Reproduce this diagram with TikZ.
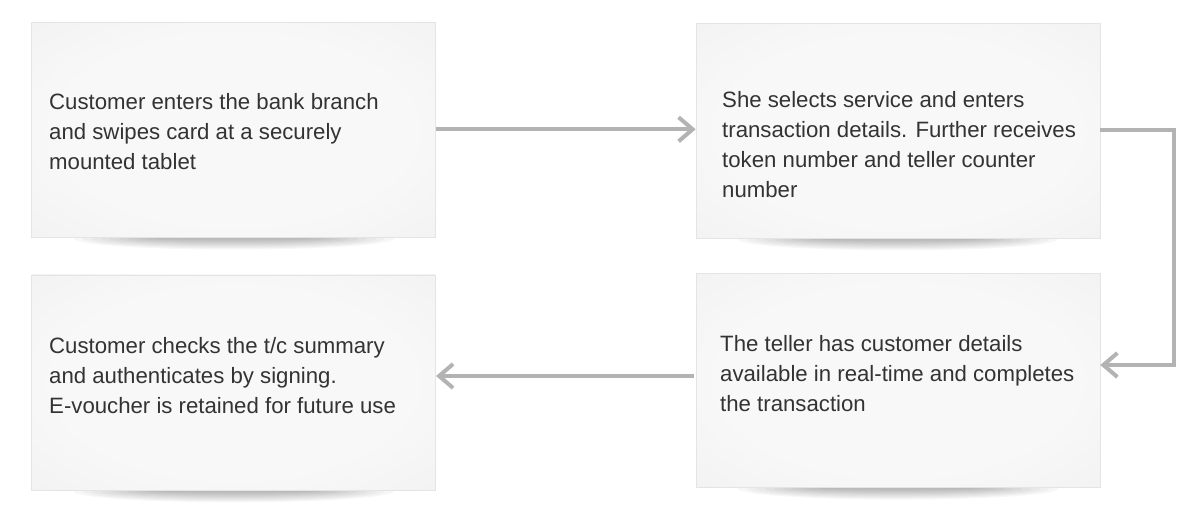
\documentclass[tikz,border=0pt]{standalone}
\usepackage{fontspec}
\setmainfont{Liberation Sans}
\usetikzlibrary{arrows.meta,calc}
\definecolor{txt}{HTML}{333333}
\definecolor{arr}{HTML}{B3B3B3}
\definecolor{bxin}{HTML}{F8F8F8}
\definecolor{bxout}{HTML}{EDEDED}
\definecolor{bxline}{HTML}{E4E4E4}
\pgfdeclareradialshading{boxfill}{\pgfpoint{0bp}{0bp}}{color(0bp)=(bxin); color(22bp)=(bxin); color(50bp)=(bxout)}
\pgfdeclarelayer{background}
\pgfsetlayers{background,main}
\tikzset{
  card/.style={draw=bxline, line width=0.6pt, shading=boxfill, inner sep=0pt, minimum width=404pt},
  lbl/.style={anchor=north west, inner sep=0pt, align=left, text=txt, font=\fontsize{22.2}{30}\selectfont},
  flow/.style={draw=arr, line width=4pt, -{Straight Barb[length=14pt,width=24pt]}},
  shadowpiece/.style={fill=black, fill opacity=0.032, draw=none}
}
\begin{document}
\begin{tikzpicture}[x=1pt,y=-1pt]
\useasboundingbox (0,0) rectangle (1190,518);
% cards
\node[card, minimum height=214.6pt] (b1) at (233.7,130) {};
\node[card, minimum height=214.7pt] (b2) at (898,130.7) {};
\node[card, minimum height=214pt] (b3) at (898,380.3) {};
\node[card, minimum height=215pt] (b4) at (233.7,382.5) {};
% shadows
\begin{pgfonlayer}{background}
  \foreach \b in {b1,b2,b3,b4}{
    \foreach \i in {1,...,10}{
      \path[shadowpiece] ([yshift=-1pt]\b.south) ellipse [x radius={70+9*\i}, y radius={1.1*\i}];
    }
  }
\end{pgfonlayer}
% texts
\node[lbl] (t1) at (49,93.1) {Customer enters the bank branch\\and swipes card at a securely\\mounted tablet};
\node[lbl] (t2) at (722,91.3) {She selects service and enters\\transaction details. Further receives\\token number and teller counter\\number};
\node[lbl] (t3) at (720,335.7) {The teller has customer details\\available in real-time and completes\\the transaction};
\node[lbl] (t4) at (49,337.3) {Customer checks the t/c summary\\and authenticates by signing.\\E-voucher is retained for future use};
% connectors
\coordinate (a1) at ([yshift=0.7pt]b1.east);
\draw[flow] (a1) -- (a1 -| b2.west);
\coordinate (a2) at ([yshift=1pt]b2.east);
\coordinate (a3) at ([yshift=15.3pt]b3.east);
\draw[flow, line cap=butt] (a2) -- ([xshift=74pt]a2) |- (a3);
\coordinate (a4) at ([yshift=4.3pt]b3.west);
\draw[flow] ([xshift=-2pt]a4) -- (a4 -| b4.east);
\end{tikzpicture}
\end{document}
